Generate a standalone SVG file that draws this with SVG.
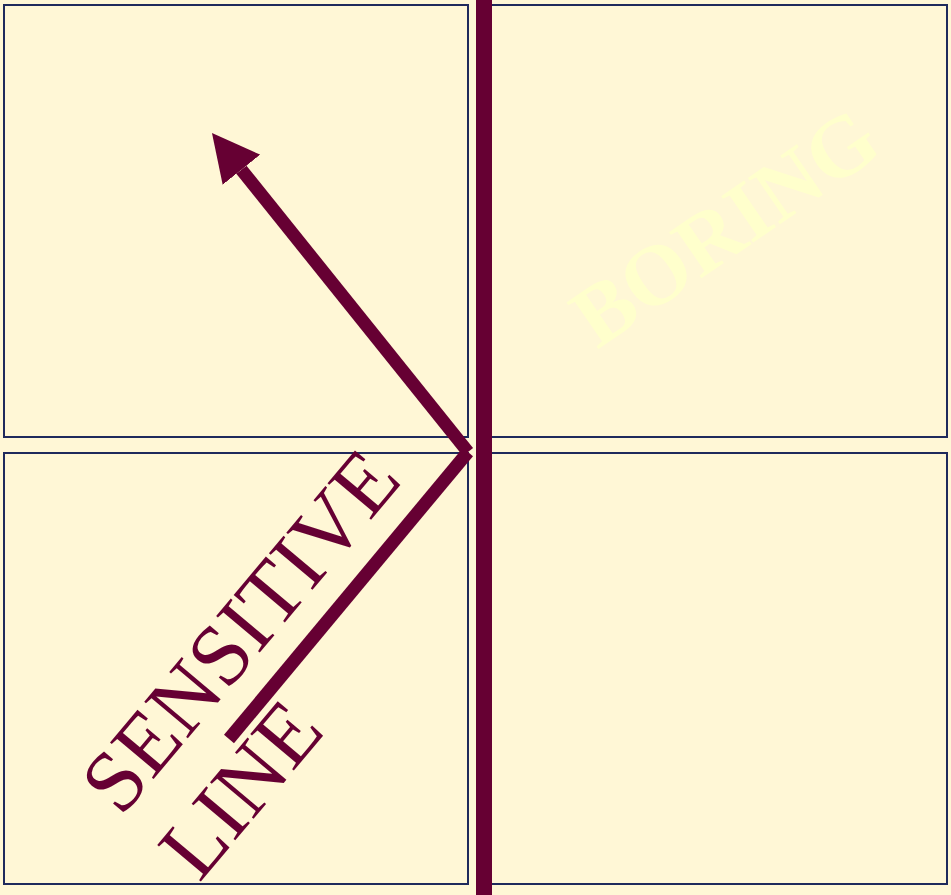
<svg xmlns="http://www.w3.org/2000/svg" width="951" height="895" viewBox="0 0 951 895">
  <style>
    .panel { fill: #fff7d6; stroke: #1f2a5c; stroke-width: 2; }
    .wine { stroke: #660033; fill: none; }
    .label { font-family: "Liberation Serif", "Times New Roman", serif; }
  </style>
  <defs>
    <marker id="head" markerUnits="userSpaceOnUse" viewBox="0 0 47 48" markerWidth="47" markerHeight="48" refX="0" refY="24" orient="auto">
      <path d="M0,0 L47,24 L0,48 Z" fill="#660033"/>
    </marker>
  </defs>
  <rect x="0" y="0" width="951" height="895" fill="#fff7d6"/>
  <g id="panel-top-left"><rect class="panel" x="4" y="5" width="464" height="432"/></g>
  <g id="panel-top-right"><rect class="panel" x="491" y="5" width="456" height="432"/></g>
  <g id="panel-bottom-left"><rect class="panel" x="4" y="453" width="464" height="431"/></g>
  <g id="panel-bottom-right"><rect class="panel" x="491" y="453" width="456" height="431"/></g>
  <g id="boring-label">
    <text class="label" x="741" y="251" transform="rotate(-34.5 741 251)" text-anchor="middle" font-size="86" font-weight="bold" fill="#ffffcc">BORING</text>
  </g>
  <g id="sensitive-label">
    <text class="label" transform="translate(121 818) rotate(-50)" font-size="87" fill="#660033"><tspan x="0" y="0">SENSITIVE</tspan><tspan x="0" y="102">LINE</tspan></text>
  </g>
  <g id="connectors">
    <line class="wine" x1="484" y1="0" x2="484" y2="895" stroke-width="16"/>
    <line class="wine" x1="229" y1="739" x2="468" y2="452" stroke-width="13"/>
    <line class="wine" x1="468" y1="452" x2="241.4" y2="169.7" stroke-width="13" marker-end="url(#head)"/>
  </g>
</svg>
